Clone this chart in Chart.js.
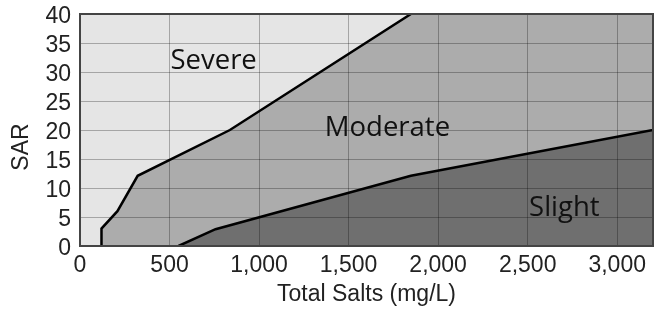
<!DOCTYPE html>
<html><head><meta charset="utf-8">
<script src="https://cdn.jsdelivr.net/npm/chart.js@4/dist/chart.umd.min.js"></script>
<style>html,body{margin:0;padding:0;background:#fff}#wrap{width:657px;height:311px;position:relative}</style>
</head><body><div id="wrap"><canvas id="c"></canvas></div>
<script>
// Axis settings
const xMin = 0, xMax = 3200;
const yMin = 0, yMax = 40;
const xTickValues = [0, 500, 1000, 1500, 2000, 2500, 3000];
const yTickValues = [0, 5, 10, 15, 20, 25, 30, 35, 40];
const xTitle = 'Total Salts (mg/L)';
const yTitle = 'SAR';

// Upper boundary of the whole chart (Severe zone fills everything below it)
const severeX = [0, 3200];
const severeY = [40, 40];
// Moderate zone outline (Severe / Moderate boundary, then along the top)
const moderateX = [120, 120, 209, 322, 837, 1848, 3200];
const moderateY = [0, 3, 6, 12.1, 20, 40, 40];
// Moderate / Slight boundary
const slightX = [550, 757, 1848, 3200];
const slightY = [0, 2.9, 12.1, 20];

// Zone labels (anchored at data coordinates, left/baseline)
const zoneNames = ['Severe', 'Moderate', 'Slight'];
const zoneLabelX = [505, 1367, 2508];
const zoneLabelY = [30.5, 19.0, 5.1];

const toPts = (xs, ys) => xs.map((x, i) => ({x, y: ys[i]}));
// the drawn Severe/Moderate boundary stops where it meets the top of the plot
const moderateLineEnd = moderateY.indexOf(yMax) + 1;

const tickFont = {family: '"Liberation Sans", Arial, sans-serif', size: 23};
const gridColor = 'rgba(0,0,0,0.28)';

const overlay = {
  id: 'overlay',
  afterDraw(chart) {
    const {ctx, scales} = chart;
    const a = chart.chartArea;
    ctx.save();
    // plot frame
    ctx.strokeStyle = '#444';
    ctx.lineWidth = 2;
    ctx.strokeRect(a.left, a.top, a.right - a.left, a.bottom - a.top);
    // zone labels
    ctx.fillStyle = '#111';
    ctx.font = '27.5px "Open Sans"';
    ctx.textAlign = 'left';
    ctx.textBaseline = 'alphabetic';
    zoneNames.forEach((t, i) => {
      ctx.fillText(t, scales.x.getPixelForValue(zoneLabelX[i]), scales.y.getPixelForValue(zoneLabelY[i]));
    });
    // y-axis title
    ctx.fillStyle = '#222';
    ctx.font = tickFont.size + 'px ' + tickFont.family;
    ctx.textAlign = 'center';
    ctx.textBaseline = 'middle';
    ctx.translate(22, (a.top + a.bottom) / 2 + 17);
    ctx.rotate(-Math.PI / 2);
    ctx.fillText(yTitle, 0, 0);
    ctx.restore();
  }
};

new Chart(document.getElementById('c'), {
  type: 'line',
  data: {
    datasets: [
      {data: toPts(severeX, severeY), backgroundColor: '#e5e5e5', borderWidth: 0, fill: 'origin', pointRadius: 0, order: 5},
      {data: toPts(moderateX, moderateY), backgroundColor: '#acacac', borderWidth: 0, fill: 'origin', pointRadius: 0, order: 4},
      {data: toPts(moderateX.slice(0, moderateLineEnd), moderateY.slice(0, moderateLineEnd)), borderColor: '#000', borderWidth: 2.5, fill: false, pointRadius: 0, order: 3},
      {data: toPts(slightX, slightY), backgroundColor: '#6f6f6f', borderColor: '#000', borderWidth: 2.5, fill: 'origin', pointRadius: 0, order: 1}
    ]
  },
  options: {
    responsive: true,
    maintainAspectRatio: false,
    animation: false,
    events: [],
    layout: {padding: {top: 14, right: 4, left: 0, bottom: 0}},
    plugins: {legend: {display: false}, tooltip: {enabled: false}},
    elements: {line: {tension: 0, borderJoinStyle: 'miter'}},
    scales: {
      x: {
        type: 'linear', min: xMin, max: xMax, z: 1,
        afterBuildTicks: s => { s.ticks = xTickValues.map(v => ({value: v})); },
        afterFit: s => { s.height = 65; s.paddingLeft = 0; s.paddingRight = 0; },
        ticks: {autoSkip: false, color: '#222', font: tickFont, padding: 6, maxRotation: 0,
          callback: v => v.toLocaleString('en-US')},
        grid: {color: gridColor, lineWidth: 1, drawTicks: false, z: 1},
        border: {display: true, color: '#444', width: 2, z: 1},
        title: {display: true, text: xTitle, color: '#222', font: tickFont, padding: {top: 0, bottom: 3}}
      },
      y: {
        type: 'linear', min: yMin, max: yMax, z: 1,
        afterBuildTicks: s => { s.ticks = yTickValues.map(v => ({value: v})); },
        afterFit: s => { s.width = 80; s.paddingTop = 0; s.paddingBottom = 0; },
        ticks: {autoSkip: false, color: '#222', font: tickFont, padding: 9, labelOffset: 3},
        grid: {color: gridColor, lineWidth: 1, drawTicks: false, z: 1},
        border: {display: true, color: '#444', width: 2, z: 1},
        title: {display: false}
      }
    }
  },
  plugins: [overlay]
});
</script>
</body></html>
